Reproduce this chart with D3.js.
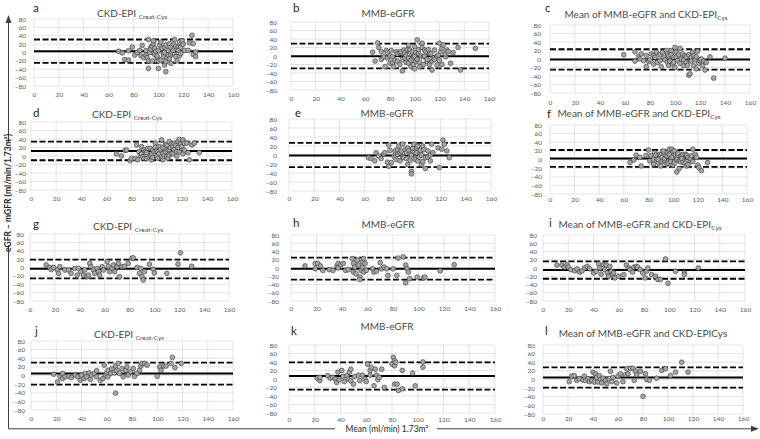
<!DOCTYPE html>
<html>
<head>
<meta charset="utf-8">
<script src="https://cdn.jsdelivr.net/npm/d3@7"></script>
<style>
body { margin: 0; background: #fff; }
svg text { font-family: Lato, "Open Sans", sans-serif; }
</style>
</head>
<body>
<div id="chart"></div>
<script>

// panel text
const panelLetters = ["a","b","c","d","e","f","g","h","i","j","k","l"];
const panelTitles = ["CKD-EPI ","MMB-eGFR","Mean of MMB-eGFR and CKD-EPI",
                     "CKD-EPI ","MMB-eGFR","Mean of MMB-eGFR and CKD-EPI",
                     "CKD-EPI ","MMB-eGFR","Mean of MMB-eGFR and CKD-EPI",
                     "CKD-EPI ","MMB-eGFR","Mean of MMB-eGFR and CKD-EPICys"];
const titleSubs = ["Creat-Cys","","Cys","Creat-Cys","","Cys","Creat-Cys","","Cys","Creat-Cys","",""];

// bias and limits of agreement
const biasLines = [3, -0.5, -1, 12, -1, 2.5, -3, -2, -5, 4.5, 7, 4.5];
const upperLoA  = [31, 29, 23, 34, 27, 22, 19, 25, 16, 30, 39, 28];
const lowerLoA  = [-25, -29, -25, -10, -27, -17, -26, -28, -26, -21, -25, -19];

const xTicks = [0,20,40,60,80,100,120,140,160];
const yTicks = [-80,-60,-40,-20,0,20,40,60,80];

// points [mean, difference]
const ptsA = [[68,3],[71,-1],[73,-17],[76,-18],[76,4],[79,13],[81,-6],[83,0],[85,5],[86,-8],[87,17],[88,-12],[90,-6],[90,5],[91,-12],[92,31],[92,-38],[92,-20],[93,0],[94,13],[94,8],[95,-20],[95,15],[96,21],[96,-2],[96,28],[97,10],[97,-5],[98,2],[99,-14],[99,-8],[100,5],[100,-38],[100,-20],[101,18],[102,25],[102,-18],[103,10],[104,-2],[104,-10],[105,13],[105,0],[105,-30],[106,-22],[106,-46],[106,18],[107,-12],[108,-6],[108,5],[109,21],[109,-15],[110,-26],[110,12],[110,-5],[111,0],[112,5],[112,20],[113,31],[113,-5],[114,-10],[114,15],[115,-20],[116,13],[116,5],[117,25],[117,-8],[118,-2],[118,12],[119,28],[120,20],[121,5],[124,5],[125,23],[127,41],[128,21],[128,-5],[130,1],[130,-10]];
const ptsB = [[66,9],[68,-12],[70,31],[71,20],[73,-8],[73,10],[75,-2],[76,-25],[77,13],[78,-5],[78,8],[80,-17],[80,0],[81,13],[82,-2],[82,-15],[83,-25],[84,-10],[85,10],[86,-13],[86,5],[88,8],[88,-20],[89,10],[90,-35],[90,-8],[91,14],[92,-5],[92,8],[93,2],[93,-15],[94,15],[95,-17],[95,-5],[95,25],[96,14],[96,5],[97,-25],[97,-10],[98,10],[99,-2],[99,-20],[100,22],[100,0],[100,-30],[101,-13],[101,8],[102,38],[102,-8],[103,6],[103,15],[104,-25],[104,-15],[105,0],[106,30],[106,20],[107,-2],[107,-20],[108,14],[108,0],[109,10],[110,-13],[110,-8],[111,15],[112,6],[112,-20],[113,5],[114,-33],[114,-12],[115,-5],[116,14],[116,-8],[118,-21],[118,0],[119,2],[120,30],[120,-10],[121,10],[122,18],[122,-20],[123,26],[125,-2],[125,5],[126,14],[127,10],[129,-17],[131,8],[135,20],[137,-33],[149,18]];
const ptsC = [[59,10],[68,17],[68,-5],[71,6],[72,0],[73,12],[75,-4],[77,-18],[77,8],[79,-6],[80,-2],[81,12],[83,-12],[83,8],[84,4],[85,16],[86,-8],[88,-4],[88,10],[89,-18],[90,16],[91,4],[92,-2],[93,20],[94,-8],[94,12],[95,8],[95,-15],[96,-5],[97,20],[97,10],[98,-12],[99,4],[99,-8],[100,27],[100,-20],[101,16],[101,5],[102,-4],[103,10],[104,25],[104,-10],[105,0],[106,12],[107,-16],[107,-2],[108,8],[109,-8],[109,5],[110,-15],[111,-38],[111,10],[112,-35],[113,4],[113,-5],[114,16],[115,-16],[115,8],[116,-2],[117,-23],[117,5],[118,18],[119,-10],[120,-4],[121,0],[122,-16],[123,-5],[124,-26],[125,-8],[128,5],[131,-45],[140,2]];
const ptsD = [[68,5],[72,0],[75,13],[76,14],[79,-11],[80,-6],[83,-6],[84,26],[85,-9],[86,10],[87,2],[88,22],[88,5],[89,-2],[90,15],[90,-5],[91,10],[92,-6],[92,8],[93,18],[94,-2],[95,2],[95,18],[96,-9],[96,5],[97,14],[97,-3],[98,10],[99,30],[99,20],[100,-2],[100,12],[101,10],[101,-5],[102,22],[102,5],[103,15],[104,38],[104,-2],[105,-9],[105,6],[105,20],[106,0],[107,26],[107,10],[108,-2],[108,25],[109,14],[109,-5],[110,34],[110,2],[110,15],[111,20],[112,6],[112,28],[113,22],[113,5],[114,30],[114,15],[115,25],[116,10],[116,0],[117,34],[117,20],[118,39],[118,10],[119,28],[120,18],[120,22],[121,38],[121,5],[122,14],[122,30],[124,30],[125,8],[126,-9],[128,26],[130,30],[134,8]];
const ptsE = [[63,-6],[65,-8],[68,-13],[69,5],[71,-2],[73,-8],[75,2],[76,5],[78,-16],[79,22],[79,-25],[80,10],[81,-17],[83,-2],[84,9],[84,-5],[85,-10],[86,2],[86,12],[87,20],[88,-13],[88,5],[89,9],[90,24],[90,-5],[91,-6],[92,12],[93,5],[93,-8],[94,-21],[94,16],[95,10],[96,2],[96,-12],[97,-36],[97,0],[97,-42],[98,9],[98,15],[99,24],[100,-6],[100,-10],[101,16],[101,5],[102,-13],[102,20],[103,-5],[104,5],[104,10],[105,-21],[105,0],[106,20],[106,-15],[107,12],[108,-6],[108,-30],[110,9],[110,-5],[112,-13],[112,0],[113,24],[114,5],[118,16],[119,-28],[121,13],[122,33],[123,24],[125,9],[127,-6]];
const ptsF = [[65,-7],[68,-1],[70,10],[73,5],[74,-15],[78,9],[80,22],[81,-3],[82,9],[84,-11],[84,0],[85,16],[86,10],[87,1],[88,-7],[88,0],[89,12],[90,-15],[90,10],[91,5],[91,-5],[92,20],[93,-3],[93,2],[94,9],[95,-11],[95,8],[96,16],[96,-8],[97,24],[97,12],[98,1],[98,-5],[99,24],[99,5],[100,-13],[100,18],[101,20],[101,-8],[102,10],[103,5],[103,-29],[103,0],[104,15],[105,-21],[105,-3],[106,-5],[107,9],[107,2],[108,-7],[108,12],[110,12],[110,-8],[111,-15],[111,10],[112,5],[112,-12],[114,-3],[114,2],[115,9],[116,24],[116,-5],[118,12],[119,5],[120,-13],[121,-19],[123,-26],[128,-7]];
const ptsG = [[13,6],[16,0],[17,-5],[19,0],[22,-6],[23,-14],[24,2],[28,-6],[31,-6],[33,-14],[36,-2],[38,-18],[39,-2],[41,-10],[43,-18],[44,-6],[46,-22],[47,-18],[48,10],[49,2],[51,-6],[52,-14],[54,-2],[55,-10],[56,-18],[58,2],[59,-6],[62,14],[63,2],[64,-10],[66,-2],[67,6],[68,-10],[70,2],[71,10],[72,-22],[74,2],[76,3],[79,10],[82,22],[83,23],[86,0],[88,-14],[89,-2],[90,-22],[91,-30],[92,-10],[96,8],[99,-4],[100,-13],[110,-14],[119,8],[121,35],[130,3]];
const ptsH = [[11,5],[19,11],[19,-2],[21,11],[23,5],[25,-6],[30,-4],[33,-6],[36,5],[37,11],[37,0],[39,8],[41,11],[43,-6],[45,-4],[48,23],[49,-10],[49,11],[50,2],[51,-14],[52,19],[53,7],[54,-22],[54,-28],[55,-6],[56,15],[56,2],[57,23],[57,-10],[58,11],[59,-6],[64,-2],[65,-10],[67,-8],[70,13],[71,-2],[73,2],[75,-2],[76,-18],[80,-2],[83,-18],[84,24],[88,27],[90,7],[90,-36],[91,-2],[92,-10],[93,-26],[99,-22],[104,-24],[105,-22],[117,-7],[128,8]];
const ptsI = [[11,7],[15,7],[17,2],[19,8],[20,2],[22,-4],[25,-7],[27,-2],[29,-10],[31,-7],[33,0],[35,4],[37,-2],[40,-12],[42,-8],[44,10],[45,0],[46,-15],[48,8],[49,-4],[50,7],[51,-12],[52,-20],[53,4],[54,-8],[55,-16],[56,-12],[57,-24],[60,-20],[64,-16],[66,7],[68,0],[69,-4],[71,-10],[72,2],[74,4],[75,2],[77,-4],[79,-12],[81,-24],[82,-8],[83,0],[86,-16],[89,-20],[91,-28],[93,-28],[97,22],[99,-37],[105,-8],[112,-12],[112,-16],[123,0]];
const ptsJ = [[18,3],[21,-15],[23,-3],[25,5],[25,-7],[27,-3],[30,-2],[32,-5],[35,1],[37,-3],[39,-11],[40,1],[42,-7],[43,5],[44,-3],[46,6],[47,-9],[48,1],[50,5],[52,11],[52,-3],[55,-11],[57,-7],[58,24],[59,1],[60,6],[61,-3],[61,12],[63,5],[64,16],[66,6],[67,22],[67,-41],[68,12],[69,28],[70,5],[72,16],[73,-3],[75,12],[76,20],[77,1],[79,9],[81,16],[82,-2],[84,5],[86,12],[87,22],[88,28],[90,28],[92,24],[100,-2],[102,20],[103,12],[105,22],[107,22],[111,28],[112,42],[114,18],[119,28]];
const ptsK = [[22,2],[24,-4],[24,4],[30,8],[32,2],[34,4],[36,0],[37,-8],[38,16],[39,-2],[41,20],[42,6],[43,-6],[45,8],[46,0],[47,16],[48,23],[48,-4],[50,-12],[51,6],[54,9],[55,-4],[57,9],[59,0],[60,-6],[61,35],[63,20],[63,9],[64,27],[66,-16],[67,23],[68,9],[69,-2],[70,4],[72,23],[74,-20],[80,35],[81,51],[82,43],[82,31],[82,-12],[83,39],[84,-12],[85,-27],[88,-23],[88,20],[96,14],[98,-16],[104,40],[104,28]];
const ptsL = [[21,-5],[23,8],[25,9],[27,-2],[29,2],[32,-1],[33,8],[34,-2],[36,2],[37,-5],[39,-2],[40,17],[41,-6],[42,13],[43,5],[44,-6],[45,9],[46,0],[47,-8],[48,3],[50,-2],[51,-10],[53,2],[54,19],[55,-5],[56,5],[59,-8],[60,8],[62,13],[64,-5],[66,11],[67,25],[68,13],[70,26],[72,26],[73,-2],[74,19],[75,11],[78,19],[80,-39],[82,13],[83,0],[85,-2],[91,3],[95,21],[98,25],[102,9],[106,17],[111,40],[116,17]];
const panelPoints = [ptsA, ptsB, ptsC, ptsD, ptsE, ptsF, ptsG, ptsH, ptsI, ptsJ, ptsK, ptsL];

// layout: plot box, y-label gap, x-label centre, letter pos, title centre/baseline
const layout = [
  {l:34, t:19, r:233, b:86, gap:8, xly:95, lx:33, ly:12, tc:132, ty:17},
  {l:291,t:22, r:489, b:90, gap:14,xly:99, lx:293,ly:11.5,tc:388, ty:17},
  {l:550,t:25, r:750, b:93, gap:9, xly:103,lx:545,ly:11.5,tc:646, ty:18},
  {l:31, t:122,r:232, b:190,gap:5, xly:199,lx:33, ly:117,tc:127, ty:118},
  {l:289,t:119,r:491, b:191,gap:12,xly:199,lx:295,ly:117,tc:387, ty:117},
  {l:550,t:125,r:747, b:194,gap:8, xly:199.5,lx:547,ly:118,tc:639, ty:117},
  {l:30, t:234,r:229, b:301,gap:6, xly:310,lx:33, ly:228,tc:128, ty:230},
  {l:291,t:235,r:495, b:301,gap:12,xly:309,lx:293,ly:227,tc:388, ty:228},
  {l:543,t:235,r:745, b:301,gap:6, xly:310,lx:549,ly:227,tc:640, ty:228},
  {l:31, t:341,r:233, b:410,gap:6, xly:419,lx:35, ly:335,tc:129, ty:338},
  {l:289,t:345,r:495, b:413,gap:12,xly:420,lx:291,ly:335,tc:387, ty:330},
  {l:543,t:345,r:743, b:414,gap:8, xly:419,lx:545,ly:335,tc:643, ty:337}
];

const W = 760, H = 439;
const svg = d3.select("#chart").append("svg")
    .attr("width", W).attr("height", H);

const panels = d3.range(12).map(i => ({
  letter: panelLetters[i], title: panelTitles[i], sub: titleSubs[i],
  bias: biasLines[i], upper: upperLoA[i], lower: lowerLoA[i],
  pts: panelPoints[i], box: layout[i]
}));

panels.forEach(p => {
  const b = p.box;
  const x = d3.scaleLinear().domain([0, 160]).range([b.l, b.r]);
  const y = d3.scaleLinear().domain([-80, 80]).range([b.b, b.t]);
  const g = svg.append("g");

  // gridlines
  g.selectAll(".vgrid").data(xTicks).join("line")
    .attr("x1", d => x(d)).attr("x2", d => x(d))
    .attr("y1", b.t).attr("y2", b.b)
    .attr("stroke", "#d9d9d9").attr("stroke-width", 0.7);
  g.selectAll(".hgrid").data(yTicks).join("line")
    .attr("x1", b.l).attr("x2", b.r)
    .attr("y1", d => y(d)).attr("y2", d => y(d))
    .attr("stroke", "#d9d9d9").attr("stroke-width", 0.7);

  // axes (labels only)
  const ya = g.append("g").attr("transform", `translate(${b.l},0)`)
    .call(d3.axisLeft(y).tickValues(yTicks).tickSize(0).tickPadding(b.gap));
  const xa = g.append("g").attr("transform", `translate(0,${b.b})`)
    .call(d3.axisBottom(x).tickValues(xTicks).tickSize(0).tickPadding(b.xly - b.b - 2.3));
  [ya, xa].forEach(a => {
    a.select(".domain").remove();
    a.attr("font-family", "Lato, 'Open Sans', sans-serif").attr("font-size", 6.5);
    a.selectAll("text").attr("fill", "#595959");
  });

  // bias line and limits of agreement
  g.append("line")
    .attr("x1", x(0)).attr("x2", x(160))
    .attr("y1", y(p.bias)).attr("y2", y(p.bias))
    .attr("stroke", "#000").attr("stroke-width", 2);
  [p.upper, p.lower].forEach(v => {
    g.append("line")
      .attr("x1", x(0)).attr("x2", x(160))
      .attr("y1", y(v)).attr("y2", y(v))
      .attr("stroke", "#000").attr("stroke-width", 1.8)
      .attr("stroke-dasharray", "6,2.5");
  });

  // points
  g.selectAll("circle").data(p.pts).join("circle")
    .attr("cx", d => x(d[0])).attr("cy", d => y(d[1]))
    .attr("r", 2.4)
    .attr("fill", "#a5a5a5").attr("stroke", "#3a3a3a").attr("stroke-width", 0.6);

  // letter and title
  g.append("text").attr("x", b.lx).attr("y", b.ly)
    .attr("font-size", 11.5).attr("fill", "#262626").text(p.letter);
  const t = g.append("text").attr("x", b.tc).attr("y", b.ty)
    .attr("text-anchor", "middle").attr("font-size", 10).attr("fill", "#4a4a4a");
  t.append("tspan").text(p.title);
  if (p.sub) t.append("tspan").attr("font-size", 6.5).attr("dy", 2).text(p.sub);
});

// outer axes with arrows
const ax = svg.append("g").attr("stroke", "#404040").attr("stroke-width", 1);
ax.append("line").attr("x1", 8.5).attr("x2", 8.5).attr("y1", 22).attr("y2", 142);
ax.append("line").attr("x1", 8.5).attr("x2", 8.5).attr("y1", 245).attr("y2", 428.8);
ax.append("line").attr("x1", 8.5).attr("x2", 335).attr("y1", 428.8).attr("y2", 428.8);
ax.append("line").attr("x1", 437).attr("x2", 752).attr("y1", 428.8).attr("y2", 428.8);
svg.append("path").attr("d", "M8.5,15 L5.5,23 L11.5,23 Z").attr("fill", "#404040");
svg.append("path").attr("d", "M759,428.8 L751,425.8 L751,431.8 Z").attr("fill", "#404040");

svg.append("text")
  .attr("transform", "translate(10.5,193) rotate(-90)")
  .attr("text-anchor", "middle").attr("font-size", 8.5).attr("font-weight", "bold")
  .attr("fill", "#262626")
  .text("eGFR \u2013 mGFR (ml/min/1.73m\u00b2)");

svg.append("text")
  .attr("x", 387).attr("y", 431.5)
  .attr("text-anchor", "middle").attr("font-size", 8.5).attr("fill", "#262626")
  .text("Mean (ml/min) 1.73m\u00b2");

</script>
</body>
</html>
